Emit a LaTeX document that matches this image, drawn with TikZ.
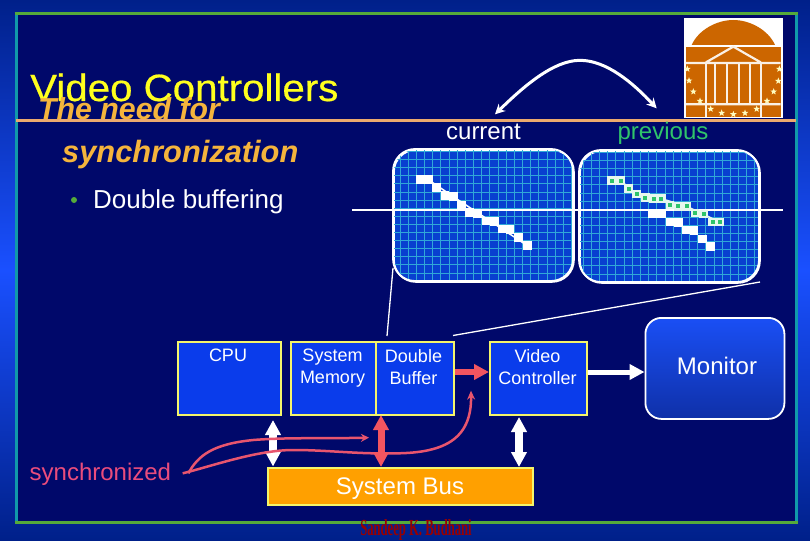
\documentclass[tikz,border=0pt]{standalone}
\usepackage{fontspec}
\setmainfont{Liberation Sans}
\newfontfamily\serifcond{Liberation Serif}
\newfontfamily\titlefont[FakeBold=0.5]{Liberation Sans}
\usetikzlibrary{arrows.meta,shapes.geometric}
\definecolor{navy}{HTML}{00086A}
\definecolor{framegreen}{HTML}{55AA3A}
\definecolor{frameteal}{HTML}{1199AA}
\definecolor{rulecol}{HTML}{EBA96E}
\definecolor{boxblue}{HTML}{0A3CEB}
\definecolor{boxedge}{HTML}{F5F56A}
\definecolor{gridfill}{HTML}{0840D0}
\definecolor{gridline}{HTML}{30A8D8}
\definecolor{redarrow}{HTML}{F25560}
\definecolor{redcurve}{HTML}{E8556E}
\definecolor{brick}{HTML}{CC6600}
\definecolor{titleyellow}{HTML}{FFFF1E}
\definecolor{suborange}{HTML}{F5B43C}
\definecolor{prevgreen}{HTML}{2FC46A}
\definecolor{bandlight}{HTML}{1A50FF}
\definecolor{banddark}{HTML}{00208A}
\definecolor{montop}{HTML}{1A4FF5}
\definecolor{monbot}{HTML}{0F30A8}
\definecolor{busfill}{HTML}{FFA000}
\tikzset{
  unitbox/.style={draw=boxedge,line width=2pt,fill=boxblue,inner sep=0pt,anchor=north west},
  boxtext/.style={text=white,font=\fontsize{18}{22}\selectfont,align=center,anchor=north,inner sep=0pt},
  screen/.style={draw=white,line width=1.8pt,rounded corners=22pt,inner sep=0pt,anchor=north west,minimum width=180pt,minimum height=132pt},
  pix/.style={fill=white,draw=none,minimum size=8.4pt,inner sep=0pt},
  pixprev/.style={fill=white!88!prevgreen,draw=none,minimum size=8.6pt,inner sep=0pt},
  pixdot/.style={fill=prevgreen,draw=none,minimum size=4pt,inner sep=0pt},
  whitebus/.style={draw=white,line width=8pt,{Triangle[length=15pt,width=15pt]}-{Triangle[length=15pt,width=15pt]}},
  redbus/.style={draw=redarrow,line width=7pt,{Triangle[length=15pt,width=15pt]}-{Triangle[length=15pt,width=15pt]}},
  thinlink/.style={draw=white,line width=1.3pt},
  redcurveline/.style={draw=redcurve,line width=2.5pt},
  logostar/.style={star,star points=5,star point ratio=2.4,fill=white!75!yellow,draw=none,minimum size=7pt,inner sep=0pt},
  labeltext/.style={font=\fontsize{24}{28}\selectfont,anchor=base,inner sep=0pt}
}
\begin{document}
\begin{tikzpicture}[x=1pt,y=-1pt]
\useasboundingbox (0,0) rectangle (810,540);
\shade[top color=banddark,bottom color=banddark,middle color=bandlight] (0,0) rectangle (810,540);
\fill[navy] (16,13.5) rectangle (796,522);
\draw[frameteal,line width=3pt] (16,13.5) -- (16,522) (796,13.5) -- (796,522);
\draw[framegreen,line width=3pt] (14.5,13.5) -- (797.5,13.5) (14.5,522) -- (797.5,522);

% titles
\node[font=\titlefont\fontsize{38}{42}\selectfont,text=titleyellow,anchor=base west,inner sep=0pt,xscale=1.06] (title) at (30,101) {Video Controllers};
\node[font=\bfseries\itshape\fontsize{30.3}{32}\selectfont,text=suborange,anchor=base west,inner sep=0pt] (subA) at (38,120) {The need for};
\node[font=\bfseries\itshape\fontsize{30.8}{32}\selectfont,text=suborange,anchor=base west,inner sep=0pt] (subB) at (62,162) {synchronization};
\draw[rulecol,line width=2.6pt] (16,120.4) -- (796,120.4);
\fill[framegreen] (74,200) circle (3pt);
\node[font=\fontsize{26}{28}\selectfont,text=white,anchor=base west,inner sep=0pt] (bullet) at (93,208) {Double buffering};

% logo
\fill[white] (684,18) rectangle (783,118);
\begin{scope}[shift={(670,5)},xscale=1/3,yscale=1/3]
  \fill[brick] (65,120) .. controls (85,75) and (140,45) .. (190,45) .. controls (240,45) and (295,75) .. (315,120) -- cycle;
  \fill[brick] (48,126) rectangle (332,335);
  \draw[white!90!brick,line width=2.2pt] (48,174) -- (332,174) (48,298) -- (332,298)
     (108,172) -- (190,125) -- (272,172);
  \draw[white!90!brick,line width=2.2pt] (108,172) -- (108,335) (272,172) -- (272,335)
     (135,174) -- (135,298) (172,174) -- (172,298) (206,174) -- (206,298) (240,174) -- (240,298);
  \foreach \i/\a/\b in {1/52/192,2/57/227,3/70/260,4/90/288,5/122/312,6/155/324,7/190/328,8/225/324,9/260/312,10/291/288,11/311/260,12/325/228,13/328/192}
    \node[logostar] (st\i) at (\a,\b) {};
\end{scope}

% curved arrow
\begin{scope}[shift={(380,0)},xscale=1/3,yscale=1/3]
  \coordinate (swapL) at (345,343);
  \coordinate (swapR) at (830,325);
  \draw[white,line width=3pt,{Stealth[length=10pt,width=10pt]}-{Stealth[length=10pt,width=10pt]}]
    (swapL) .. controls (430,260) and (520,181) .. (600,181) .. controls (680,181) and (760,250) .. (swapR);
\end{scope}
\node[labeltext,text=white] (cur) at (483.5,140) {current};
\node[labeltext,text=prevgreen] (prev) at (663,140) {previous};

% screens
\node[screen,fill=gridfill] (scrA) at (393,149) {};
\node[screen,fill=gridfill] (scrB) at (579,150) {};
\begin{scope}
  \clip[rounded corners=22pt] (393,149) rectangle (573,281);
  \foreach \k in {-4,...,21} \draw[gridline,line width=.8pt] ({416.3+8.17*\k},149) -- ({416.3+8.17*\k},281);
  \foreach \k in {-4,...,13} \draw[gridline,line width=.8pt] (393,{175.7+8.1*\k}) -- (573,{175.7+8.1*\k});
\end{scope}
\begin{scope}
  \clip[rounded corners=22pt] (579,150) rectangle (759,282);
  \foreach \k in {-4,...,21} \draw[gridline,line width=.8pt] ({607.7+8.17*\k},150) -- ({607.7+8.17*\k},282);
  \foreach \k in {-4,...,13} \draw[gridline,line width=.8pt] (579,{176.7+8.1*\k}) -- (759,{176.7+8.1*\k});
\end{scope}
\draw[white,line width=1.8pt,rounded corners=22pt] (393,149) rectangle (573,281);
\draw[white,line width=1.8pt,rounded corners=22pt] (579,150) rectangle (759,282);
% scan line
\coordinate (scanL) at (352,210);
\coordinate (scanR) at (783,210);
\draw[thinlink] (scanL) -- (scanR);
% pixels current
\begin{scope}[shift={(390,145)},xscale=1/3,yscale=1/3]
  \draw[white,line width=1.5pt] (91,104) -- (115,104) -- (190,155) -- (412,302);
  \foreach \i/\a/\b in {1/91/104,2/115/104,3/140/128,4/165/152,5/190/155,6/215/180,7/238/203,8/263/205,9/288/228,10/314/230,11/336/252,12/360/254,13/386/278,14/412/302}
    \node[pix] (pa\i) at (\a,\b) {};
\end{scope}
% pixels previous
\begin{scope}[shift={(575,145)},xscale=1/3,yscale=1/3]
  \foreach \i/\a/\b in {1/233/207,2/260/207,3/285/231,4/311/233,5/335/255,6/357/257,7/383/282,8/407/305}
    \node[pix] (pb\i) at (\a,\b) {};
  \draw[white!88!prevgreen,line width=1.5pt] (110,107) -- (137,107) -- (185,147) -- (259,161) -- (335,184) -- (434,231);
  \foreach \i/\a/\b in {1/110/107,2/137/107,3/161/131,4/185/147,5/211/158,6/236/161,7/259/161,8/285/180,9/309/184,10/335/184,11/360/204,12/386/207,13/413/231,14/434/231}
    {\node[pixprev] (pc\i) at (\a,\b) {};
     \node[pixdot] (pd\i) at (\a,\b) {};}
\end{scope}

% boxes
\node[unitbox,minimum width=103pt,minimum height=73pt] (cpu) at (176.5,341) {};
\node[unitbox,minimum width=85pt,minimum height=73pt] (mem) at (290,341) {};
\node[unitbox,minimum width=78pt,minimum height=73pt] (dbuf) at (375,341) {};
\node[unitbox,minimum width=97pt,minimum height=73pt] (vc) at (489,341) {};
\node[draw=white,line width=1.8pt,rounded corners=16pt,anchor=north west,inner sep=0pt,minimum width=139pt,minimum height=101pt,top color=montop,bottom color=monbot] (mon) at (644.5,317) {};
\node[draw=boxedge,line width=2pt,fill=busfill,inner sep=0pt,anchor=north west,minimum width=265pt,minimum height=37pt] (bus) at (267,467) {};
\node[boxtext] at (228,349) {CPU};
\node[boxtext] at (332.5,349) {System\\Memory};
\node[boxtext] at (413.5,349) {Double\\Buffer};
\node[boxtext] at (537.5,349) {Video\\Controller};
\node[labeltext,text=white] at (717,374) {Monitor};
\node[labeltext,text=white] at (400,494) {System Bus};
\node[labeltext,text=redcurve!90!magenta,anchor=base west] at (29.5,480) {synchronized};

% top connectors
\coordinate (tapA) at (393,268);
\coordinate (tapB) at (760,282);
\draw[thinlink] (tapA) -- (387,336);
\draw[thinlink] (tapB) -- (453,335.5);

% bus arrows
\coordinate (cpuBus) at (273,420);
\coordinate (cpuBusEnd) at (273,466.5);
\draw[whitebus] (cpuBus) -- (cpuBusEnd);
\draw[whitebus] (vc.south -| 519,0) ++(0,1) -- (bus.north -| 519,0);
\draw[white,line width=5pt,-{Triangle[length=15pt,width=15pt]}] (vc.east |- 0,372) -- (mon.west |- 0,372);

% red curves
\begin{scope}[shift={(170,300)},xscale=1/3,yscale=1/3]
  \coordinate (syncA) at (55,520);
  \coordinate (syncB) at (38,520);
  \draw[redcurveline,-{Stealth[length=8pt,width=8pt]}] (syncA) .. controls (85,465) and (130,432) .. (250,420) .. controls (350,412) and (450,416) .. (597,413);
  \draw[redcurveline,-{Stealth[length=9pt,width=8pt]}] (syncB) .. controls (120,500) and (260,450) .. (370,450) .. controls (470,450) and (560,462) .. (660,460) .. controls (820,462) and (905,420) .. (903,272);
\end{scope}
\draw[redbus] (381,415) -- (bus.north -| 381,0);
\draw[redarrow,line width=6pt,-{Triangle[length=15pt,width=15pt]}] (dbuf.east |- 0,372) -- (vc.west |- 0,372);

% footer
\node[font=\serifcond\bfseries\fontsize{23}{26}\selectfont,text=red!60!black,xscale=.55,anchor=base,inner sep=0pt] (sig) at (416,535) {Sandeep K. Budhani};
\end{tikzpicture}
\end{document}
